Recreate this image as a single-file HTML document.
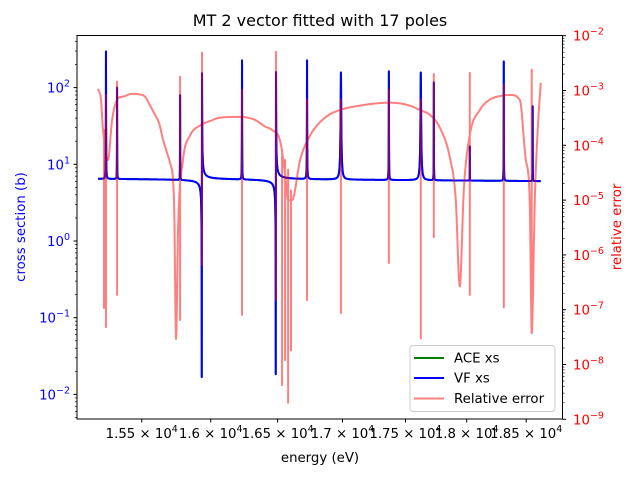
<!DOCTYPE html>
<html><head><meta charset="utf-8"><style>
html,body{margin:0;padding:0;background:#fff;}
svg{display:block;font-family:"DejaVu Sans","Liberation Sans",sans-serif;}
</style></head><body>
<svg id="chart" width="640" height="480" viewBox="0 0 640 480" xmlns="http://www.w3.org/2000/svg">
<defs><clipPath id="plotclip"><rect x="77" y="35.5" width="485.5" height="383.5"/></clipPath></defs>
<rect x="0" y="0" width="640" height="480" fill="#fff"/>
<text x="320" y="26" font-size="16" text-anchor="middle">MT 2 vector fitted with 17 poles</text>
<g id="series" clip-path="url(#plotclip)"></g>
<rect x="77" y="35.5" width="485.5" height="383.5" fill="none" stroke="#000" stroke-width="1"/>
<g id="ticks"></g>
<text x="320" y="462" font-size="13.3" text-anchor="middle">energy (eV)</text>
<text x="0" y="0" font-size="13.3" fill="#0000ff" text-anchor="middle" transform="translate(25,227) rotate(-90)">cross section (b)</text>
<text x="0" y="0" font-size="13.3" fill="#ff0000" text-anchor="middle" transform="translate(621,227) rotate(-90)">relative error</text>
<g>
<rect x="410" y="345.5" width="145" height="66" rx="3" fill="#fff" fill-opacity="0.8" stroke="#ccc"/>
<line x1="414" y1="358" x2="444" y2="358" stroke="#008000" stroke-width="2"/>
<text x="454" y="362.5" font-size="13.3">ACE xs</text>
<line x1="414" y1="378" x2="444" y2="378" stroke="#0000ff" stroke-width="2"/>
<text x="454" y="382.5" font-size="13.3">VF xs</text>
<line x1="414" y1="398.5" x2="444" y2="398.5" stroke="#ff0000" stroke-opacity="0.5" stroke-width="2"/>
<text x="454" y="403" font-size="13.3">Relative error</text>
</g>
</svg>
<script>
// ---- data ----
const xTickValues = [15500, 16000, 16500, 17000, 17500, 18000, 18500];
const xTickLabels = ["1.55", "1.6", "1.65", "1.7", "1.75", "1.8", "1.85"];
const leftDecades = [-2, -1, 0, 1, 2];
const rightDecades = [-9, -8, -7, -6, -5, -4, -3, -2];
const energyRange = [15191, 18624];
const baseXs = [6.5, 6.0];
const resEnergy = [15247, 15325, 15776, 15936, 16232, 16488, 16725, 16988, 17367, 17624, 17730, 18026, 18310, 18555];
const resPeak =   [297, 100, 80, 158, 227, 165, 227, 158, 163, 158, 117, 17, 220, 57];
const resWidth =  [0.6, 0.6, 0.6, 0.8, 0.6, 0.8, 0.8, 3.0, 0.8, 3.0, 0.6, 0.6, 0.6, 0.6];
const resDip =    [0, 0, 0, 0.0085, 0, 0.0072, 0, 0, 0, 0, 0, 0, 0, 0];
const errEnergy = [15191,15212,15226,15261,15290,15325,15352,15381,15410,15438,15480,15524,15560,15595,15625,15653,15680,15703,15732,15747,15761,15797,15848,15921,16000,16069,16217,16330,16405,16458,16519,16557,16580,16610,16672,16748,16864,16980,17137,17260,17375,17535,17616,17697,17779,17861,17910,17943,17976,18026,18109,18192,18276,18361,18445,18496,18530,18547,18573,18598,18624];
const errValue =  [1.07e-3,6.8e-4,1.9e-4,5.4e-5,2.9e-4,6.8e-4,7.6e-4,7.9e-4,8.5e-4,8.7e-4,8.5e-4,7.7e-4,5.3e-4,3.6e-4,2.5e-4,1.25e-4,7.5e-5,4.8e-5,1.0e-5,2.8e-8,2.8e-6,5.4e-5,1.5e-4,2.3e-4,2.8e-4,3.2e-4,3.3e-4,2.9e-4,2.2e-4,1.9e-4,1.2e-4,3e-5,1e-5,1e-5,5.4e-5,1.5e-4,3.2e-4,4.4e-4,5.3e-4,5.8e-4,6.0e-4,5.3e-4,4.4e-4,3.6e-4,2.1e-4,6e-5,1.0e-5,2.6e-7,1.5e-5,1.55e-4,4.4e-4,6.8e-4,7.9e-4,8.3e-4,6.8e-4,5.5e-5,1e-5,3.7e-8,1e-5,1.9e-4,1.38e-3];
const spikeEnergy = [15233,15247,15325,15776,15936,16232,16488,16534,16557,16580,16602,16725,16988,17367,17624,17730,18026,18310,18547];
const spikeHigh =   [1.9e-4,8.3e-4,1.45e-3,1.78e-3,4.9e-3,1.03e-3,5.1e-3,8.3e-5,5.4e-5,3.6e-5,1.5e-5,6.8e-4,6.8e-4,1.03e-3,6.8e-4,2.0e-3,2.1e-3,1.27e-3,2.4e-3];
const spikeLow =    [1.07e-7,4.8e-8,1.86e-7,6.5e-8,6.5e-7,8.0e-8,1.5e-7,4.2e-9,1.2e-8,2.0e-9,1.8e-8,1.5e-7,8.7e-8,7.1e-7,3.0e-8,2.1e-6,1.86e-7,1.1e-7,3.7e-8];

// ---- scales ----
const X0 = 77, XPX = 2173, EMIN = 15045;
function xS(E){ return X0 + Math.log(E/EMIN)*XPX; }
function yL(v){ return 241 - Math.log10(v)*76.7; }
function yR(v){ return 35.7 + (-2 - Math.log10(v))*54.8; }
const NS = "http://www.w3.org/2000/svg";
function mk(tag, attrs, parent){ const e=document.createElementNS(NS,tag); for(const k in attrs) e.setAttribute(k,attrs[k]); parent.appendChild(e); return e; }

// ---- cross section model ----
function baseAt(E){ const t=(E-energyRange[0])/(energyRange[1]-energyRange[0]); return baseXs[0]+(baseXs[1]-baseXs[0])*t; }
function xs(E){
  const base=baseAt(E);
  let fac=1, add=0, dip=0;
  for(let i=0;i<resEnergy.length;i++){
    const eps=(E-resEnergy[i])/(resWidth[i]/2);
    if(resDip[i]>0){
      const q=Math.sqrt(resPeak[i]/base-1);
      fac*=((q+eps)*(q+eps))/(1+eps*eps);
      dip+=resDip[i];
    } else {
      add+=(resPeak[i]-base)/(1+eps*eps);
    }
  }
  return base*fac+add+dip;
}
const series=document.getElementById('series');
let Es=[];
for(let E=energyRange[0];E<=energyRange[1];E*=1.00004) Es.push(E);
Es.push(energyRange[1]);
for(let i=0;i<resEnergy.length;i++){
  const h=resWidth[i]/2;
  [-2,-1,-0.5,0,0.5,1,2].forEach(k=>Es.push(resEnergy[i]+k*h));
  if(resDip[i]>0){ const q=Math.sqrt(resPeak[i]/baseAt(resEnergy[i])-1); Es.push(resEnergy[i]-q*h); }
}
Es.sort((a,b)=>a-b);
let d="";
Es.forEach((E,i)=>{ d+=(i?"L":"M")+xS(E).toFixed(2)+","+yL(Math.max(xs(E),1e-4)).toFixed(2); });
const ace=mk('path',{d:d,fill:"none",stroke:"#008000","stroke-width":2},series);


const vf=mk('path',{d:d,fill:"none",stroke:"#0000ff","stroke-width":2,"stroke-linejoin":"round"},series);



// ---- relative error: monotone cubic through envelope (pixel space), spikes as verticals ----
const px=errEnergy.map(xS), py=errValue.map(yR);
const n=px.length, dl=[], m=new Array(n);
for(let i=0;i<n-1;i++) dl.push((py[i+1]-py[i])/(px[i+1]-px[i]));
m[0]=dl[0]; m[n-1]=dl[n-2];
for(let i=1;i<n-1;i++){ m[i]=(dl[i-1]*dl[i]<=0)?0:(dl[i-1]+dl[i])/2; }
for(let i=0;i<n-1;i++){ if(dl[i]===0){m[i]=0;m[i+1]=0;continue;} const a=m[i]/dl[i], b=m[i+1]/dl[i], s=a*a+b*b; if(s>9){const t=3/Math.sqrt(s); m[i]=t*a*dl[i]; m[i+1]=t*b*dl[i];} }
function envY(x){
  let i=0; while(i<n-2 && x>px[i+1]) i++;
  const h=px[i+1]-px[i], t=Math.min(1,Math.max(0,(x-px[i])/h));
  const t2=t*t,t3=t2*t;
  return (2*t3-3*t2+1)*py[i]+(t3-2*t2+t)*h*m[i]+(-2*t3+3*t2)*py[i+1]+(t3-t2)*h*m[i+1];
}
let samp=[];
for(let x=px[0];x<=px[n-1];x+=0.5) samp.push([x,null]);
samp.push([px[n-1],null]);
spikeEnergy.forEach((E,i)=>samp.push([xS(E),i]));
samp.sort((a,b)=>a[0]-b[0]);
let dr="", first=true;
samp.forEach(s=>{
  const x=s[0], y=envY(x);
  dr+=(first?"M":"L")+x.toFixed(2)+","+y.toFixed(2); first=false;
  if(s[1]!==null){
    const i=s[1];
    dr+="L"+x.toFixed(2)+","+Math.min(y,yR(spikeHigh[i])).toFixed(2);
    dr+="L"+x.toFixed(2)+","+yR(spikeLow[i]).toFixed(2);
    dr+="L"+x.toFixed(2)+","+y.toFixed(2);
  }
});
const er=mk('path',{d:dr,fill:"none",stroke:"#ff0000","stroke-opacity":0.5,"stroke-width":2,"stroke-linejoin":"round"},series);



// ---- ticks ----
const tk=document.getElementById('ticks');
xTickValues.forEach((v,i)=>{
  const x=xS(v);
  const l=mk('line',{x1:x,y1:419,x2:x,y2:422.5,stroke:"#000"},tk);
  
  
  const t=mk('text',{x:x,y:438,"font-size":13.3,"text-anchor":"middle"},tk);
  
  
  t.innerHTML=xTickLabels[i]+" \u00d7 10<tspan dy='-6' font-size='9.5'>4</tspan>";
});
leftDecades.forEach(k=>{
  const y=yL(Math.pow(10,k));
  const l=mk('line',{x1:73.5,y1:y,x2:77,y2:y,stroke:"#000"},tk);
  
  
  const t=mk('text',{x:70,y:y+5,"font-size":13.3,"text-anchor":"end",fill:"#0000ff"},tk);
  
  
  t.innerHTML="10<tspan dy='-6' font-size='9.5'>"+(k<0?"\u2212"+(-k):k)+"</tspan>";
});
for(let k=-3;k<=2;k++) for(let mm=2;mm<=9;mm++){
  const y=yL(mm*Math.pow(10,k)); if(y<36||y>419) continue;
  const l=mk('line',{x1:75,y1:y,x2:77,y2:y,stroke:"#000","stroke-width":0.7},tk);
  
  
}
rightDecades.forEach(k=>{
  const y=yR(Math.pow(10,k));
  const l=mk('line',{x1:562.5,y1:y,x2:566,y2:y,stroke:"#000"},tk);
  
  
  const t=mk('text',{x:573,y:y+5,"font-size":13.3,fill:"#ff0000"},tk);
  
  
  t.innerHTML="10<tspan dy='-6' font-size='9.5'>\u2212"+(-k)+"</tspan>";
});
for(let k=-9;k<=-3;k++) for(let mm=2;mm<=9;mm++){
  const y=yR(mm*Math.pow(10,k));
  const l=mk('line',{x1:562.5,y1:y,x2:564.5,y2:y,stroke:"#000","stroke-width":0.7},tk);
  
  
}
</script>
</body></html>
